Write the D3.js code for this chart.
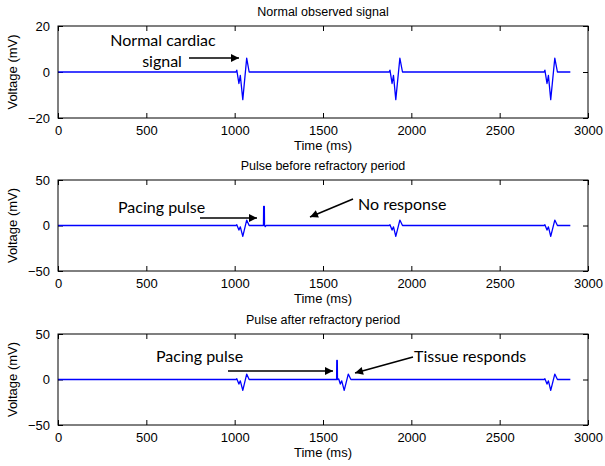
<!DOCTYPE html>
<html><head><meta charset="utf-8">
<script src="https://cdn.jsdelivr.net/npm/d3@7"></script>
<style>body{margin:0;background:#fff}svg{display:block}</style>
</head><body>
<script>
// ---- data ----
const titles = ["Normal observed signal", "Pulse before refractory period", "Pulse after refractory period"];
const xTicks = [0, 500, 1000, 1500, 2000, 2500, 3000];
const yTicks1 = [-20, 0, 20];
const yTicks23 = [-50, 0, 50];
const signalNormal = [[0,0],[1008,0],[1012,0.8],[1024,-5],[1032,-1.5],[1046,-12],[1068,6],[1082,0],
  [1875,0],[1879,0.8],[1891,-5],[1899,-1.5],[1912,-12],[1935,6],[1950,0],
  [2752,0],[2756,0.8],[2768,-5],[2776,-1.5],[2789,-12],[2812,6],[2827,0],[2900,0]];
const signalBefore = [[0,0],[1008,0],[1012,0.8],[1024,-5],[1032,-1.5],[1046,-12],[1068,6],[1082,0],
  [1163,0],[1164,21],[1168,21],[1169,0],[1173,-1.2],[1178,0],
  [1875,0],[1879,0.8],[1891,-5],[1899,-1.5],[1912,-12],[1935,6],[1950,0],
  [2752,0],[2756,0.8],[2768,-5],[2776,-1.5],[2789,-12],[2812,6],[2827,0],[2900,0]];
const signalAfter = [[0,0],[1008,0],[1012,0.8],[1024,-5],[1032,-1.5],[1046,-12],[1068,6],[1082,0],
  [1577,0],[1578,21],[1581,21],[1582,0],[1589,0.6],[1598,-5],[1606,-1.5],[1620,-12],[1643,6],[1658,0],
  [2752,0],[2756,0.8],[2768,-5],[2776,-1.5],[2789,-12],[2812,6],[2827,0],[2900,0]];

const W = 605, H = 466;
const svg = d3.select("body").append("svg").attr("width", W).attr("height", H);
svg.append("rect").attr("width", W).attr("height", H).attr("fill", "#fff");
svg.append("defs").append("marker").attr("id","ah").attr("viewBox","0 0 10 10")
  .attr("refX",10).attr("refY",5).attr("markerWidth",10).attr("markerHeight",8)
  .attr("markerUnits","userSpaceOnUse").attr("orient","auto")
  .append("path").attr("d","M0,0L10,5L0,10Z").attr("fill","#000");

const left = 58, right = 588;
const panels = [
  {top: 26, h: 92, dom: [-20, 20], ticks: yTicks1, data: signalNormal, title: titles[0]},
  {top: 180, h: 91, dom: [-50, 50], ticks: yTicks23, data: signalBefore, title: titles[1]},
  {top: 334, h: 91, dom: [-50, 50], ticks: yTicks23, data: signalAfter, title: titles[2]}
];
const font = "'Liberation Sans', Arial, Helvetica, sans-serif";
const annFont = "Lato, 'Open Sans', sans-serif";
const fmt = d => d < 0 ? "\u2212" + Math.abs(d) : String(d);

panels.forEach((p, i) => {
  const x = d3.scaleLinear().domain([0, 3000]).range([left, right]);
  const y = d3.scaleLinear().domain(p.dom).range([p.top + p.h, p.top]);
  const g = svg.append("g");
  const bottom = d3.axisBottom(x).tickValues(xTicks).tickSizeInner(-5).tickSizeOuter(0).tickPadding(8).tickFormat(fmt);
  const gb = g.append("g").attr("transform", `translate(0,${p.top + p.h})`).call(bottom);
  const top = d3.axisTop(x).tickValues(xTicks).tickSizeInner(-5).tickSizeOuter(0).tickFormat("");
  const gt = g.append("g").attr("transform", `translate(0,${p.top})`).call(top);
  const la = d3.axisLeft(y).tickValues(p.ticks).tickSizeInner(-5).tickSizeOuter(0).tickPadding(8).tickFormat(fmt);
  const gl = g.append("g").attr("transform", `translate(${left},0)`).call(la);
  const ra = d3.axisRight(y).tickValues(p.ticks).tickSizeInner(-5).tickSizeOuter(0).tickFormat("");
  const gr = g.append("g").attr("transform", `translate(${right},0)`).call(ra);
  [gb, gt, gl, gr].forEach(a => {
    a.select(".domain").remove();
    a.selectAll("line").attr("stroke", "#000");
    a.selectAll("text").attr("font-family", font).attr("font-size", 13).attr("fill", "#000");
  });
  const line = d3.line().x(d => x(d[0])).y(d => y(d[1]));
  g.append("path").datum(p.data).attr("d", line).attr("fill", "none")
    .attr("stroke", "#0000ff").attr("stroke-width", 1.3).attr("stroke-linejoin", "round");
  g.append("rect").attr("x", left).attr("y", p.top).attr("width", right - left).attr("height", p.h)
    .attr("fill", "none").attr("stroke", "#000").attr("stroke-width", 1);
  g.append("text").attr("x", (left + right) / 2).attr("y", p.top - 10).attr("text-anchor", "middle")
    .attr("font-family", font).attr("font-size", 12.5).text(p.title);
  g.append("text").attr("x", (left + right) / 2).attr("y", p.top + p.h + 32).attr("text-anchor", "middle")
    .attr("font-family", font).attr("font-size", 13).text("Time (ms)");
  g.append("text").attr("transform", `translate(17,${p.top + p.h / 2}) rotate(-90)`).attr("text-anchor", "middle")
    .attr("font-family", font).attr("font-size", 13).text("Voltage (mV)");
});

function ann(text, xx, yy, anchor) {
  svg.append("text").attr("x", xx).attr("y", yy).attr("text-anchor", anchor || "start")
    .attr("font-family", annFont).attr("font-size", 16).attr("fill", "#000").text(text);
}
function arrow(x1, y1, x2, y2) {
  svg.append("line").attr("x1", x1).attr("y1", y1).attr("x2", x2).attr("y2", y2)
    .attr("stroke", "#000").attr("stroke-width", 1.5).attr("marker-end", "url(#ah)");
}
ann("Normal cardiac", 163, 46, "middle");
ann("signal", 162, 67, "middle");
arrow(189, 58, 239, 58);
ann("Pacing pulse", 118, 213);
arrow(200, 218, 257, 218);
ann("No response", 358, 210);
arrow(353, 199, 310, 217);
ann("Tissue responds", 414, 362);
ann("Pacing pulse", 156, 362);
arrow(228, 371, 333, 371);
arrow(413, 357, 355, 373);
</script>
</body></html>
